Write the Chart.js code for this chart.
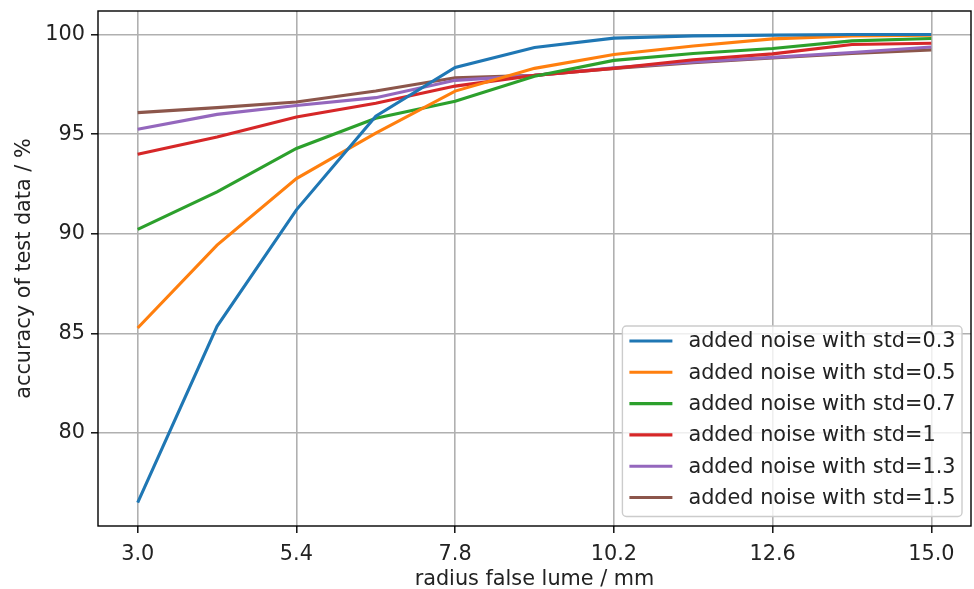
<!DOCTYPE html>
<html lang="en">
<head>
    <meta charset="UTF-8">
    <title>accuracy vs radius false lume</title>
    <script src="https://cdn.jsdelivr.net/npm/chart.js"></script>
    <style>
        body { margin: 0; background: #fff; }
        canvas { display: block; }
    </style>
</head>
<body>
    <canvas id="grafico" width="974" height="589"></canvas>
    <script>
        // data
        const radius = [3.0, 4.2, 5.4, 6.6, 7.8, 9.0, 10.2, 11.4, 12.6, 13.8, 15.0];
        const std03 = [76.5, 85.35, 91.2, 95.9, 98.35, 99.35, 99.82, 99.93, 99.97, 100.0, 100.0];
        const std05 = [85.27, 89.43, 92.77, 95.05, 97.16, 98.3, 99.0, 99.42, 99.78, 99.93, 99.97];
        const std07 = [90.22, 92.1, 94.28, 95.8, 96.65, 97.9, 98.7, 99.05, 99.3, 99.68, 99.8];
        const std1 = [93.99, 94.86, 95.86, 96.55, 97.41, 97.95, 98.3, 98.73, 99.03, 99.5, 99.56];
        const std13 = [95.24, 95.99, 96.44, 96.83, 97.7, 97.95, 98.33, 98.62, 98.85, 99.1, 99.37];
        const std15 = [96.08, 96.33, 96.61, 97.16, 97.83, 97.95, 98.3, 98.58, 98.82, 99.05, 99.23];

        const labels = ["added noise with std=0.3", "added noise with std=0.5", "added noise with std=0.7",
                        "added noise with std=1", "added noise with std=1.3", "added noise with std=1.5"];
        const series = [std03, std05, std07, std1, std13, std15];
        const colors = ["#1f77b4", "#ff7f0e", "#2ca02c", "#d62728", "#9467bd", "#8c564b"];

        const xTicks = [3.0, 5.4, 7.8, 10.2, 12.6, 15.0];
        const yTicks = [80, 85, 90, 95, 100];

        const FONT = "'DejaVu Sans', sans-serif";
        const FS = 20.8;

        // black frame round the axes (matplotlib spines)
        const marco = {
            id: "marco",
            afterDatasetsDraw(chart) {
                const a = chart.chartArea;
                const ctx = chart.ctx;
                ctx.save();
                ctx.strokeStyle = "#000";
                ctx.lineWidth = 1.4;
                ctx.strokeRect(a.left, a.top, a.right - a.left, a.bottom - a.top);
                ctx.restore();
            }
        };

        // legend in the lower right corner, like matplotlib
        const leyenda = {
            id: "leyenda",
            afterDraw(chart) {
                const a = chart.chartArea;
                const ctx = chart.ctx;
                const sets = chart.data.datasets;
                ctx.save();
                ctx.font = FS + "px " + FONT;
                let tw = 0;
                sets.forEach(d => { tw = Math.max(tw, ctx.measureText(d.label).width); });
                const rowH = 31.3;
                const w = 8 + 42 + 16.5 + tw + 6;
                const h = 15 + rowH * (sets.length - 1) + 19;
                const x0 = a.right - 9 - w;
                const y0 = a.bottom - 9.5 - h;

                ctx.beginPath();
                ctx.roundRect(x0, y0, w, h, 4);
                ctx.fillStyle = "rgba(255,255,255,0.8)";
                ctx.fill();
                ctx.strokeStyle = "#cccccc";
                ctx.lineWidth = 1.4;
                ctx.stroke();

                sets.forEach((d, i) => {
                    const y = y0 + 15 + i * rowH;
                    ctx.beginPath();
                    ctx.moveTo(x0 + 7, y);
                    ctx.lineTo(x0 + 50, y);
                    ctx.strokeStyle = d.borderColor;
                    ctx.lineWidth = 3.1;
                    ctx.stroke();
                    ctx.fillStyle = "#222";
                    ctx.textBaseline = "middle";
                    ctx.fillText(d.label, x0 + 66, y + 1);
                });
                ctx.restore();
            }
        };

        const datasets = series.map((ys, i) => ({
            label: labels[i],
            data: ys.map((y, j) => ({ x: radius[j], y: y })),
            borderColor: colors[i],
            backgroundColor: colors[i],
            borderWidth: 3.1,
            pointRadius: 0,
            tension: 0,
            fill: false
        }));

        new Chart(document.getElementById("grafico").getContext("2d"), {
            type: "line",
            data: { datasets: datasets },
            options: {
                responsive: false,
                animation: false,
                layout: { padding: { left: 0, right: 3, top: 11, bottom: 0 } },
                plugins: {
                    legend: { display: false },
                    tooltip: { enabled: false }
                },
                scales: {
                    x: {
                        type: "linear",
                        min: 2.4,
                        max: 15.6,
                        afterBuildTicks: s => { s.ticks = xTicks.map(v => ({ value: v })); },
                        afterFit: s => { s.height = 63; s.paddingLeft = 0; s.paddingRight = 0; },
                        border: { display: false },
                        grid: { color: "#b0b0b0", lineWidth: 1.6, tickColor: "#000", tickLength: 7, tickWidth: 1.4 },
                        ticks: {
                            color: "#222",
                            font: { family: FONT, size: FS },
                            padding: 9,
                            maxRotation: 0,
                            callback: v => v.toFixed(1)
                        },
                        title: {
                            display: true,
                            text: "radius false lume / mm",
                            color: "#222",
                            font: { family: FONT, size: FS },
                            padding: { top: 0, bottom: -3 }
                        }
                    },
                    y: {
                        min: 75.33,
                        max: 101.18,
                        afterBuildTicks: s => { s.ticks = yTicks.map(v => ({ value: v })); },
                        afterFit: s => { s.width = 98; s.paddingTop = 0; s.paddingBottom = 0; },
                        border: { display: false },
                        grid: { color: "#b0b0b0", lineWidth: 1.6, tickColor: "#000", tickLength: 7, tickWidth: 1.4 },
                        ticks: {
                            color: "#222",
                            font: { family: FONT, size: FS },
                            padding: 6
                        },
                        title: {
                            display: true,
                            text: "accuracy of test data / %",
                            color: "#222",
                            font: { family: FONT, size: FS },
                            padding: { top: 12, bottom: 0 }
                        }
                    }
                }
            },
            plugins: [marco, leyenda]
        });
    </script>
</body>
</html>
